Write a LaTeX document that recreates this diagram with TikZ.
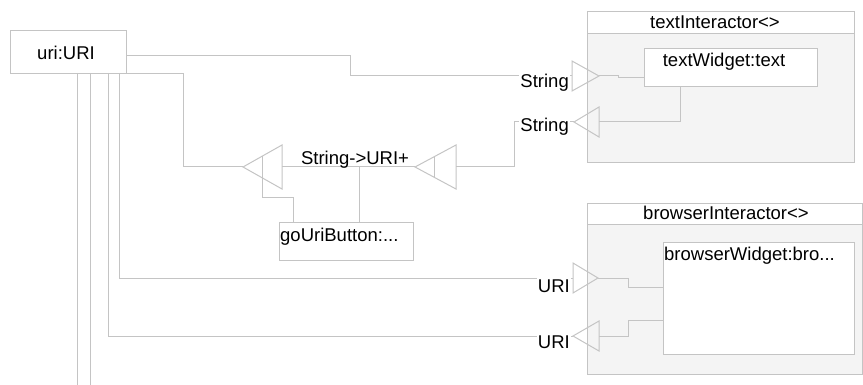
\documentclass[tikz,border=0pt]{standalone}
\usepackage{fontspec}
\setmainfont{Liberation Sans}
\definecolor{lineg}{HTML}{C4C4C4}
\definecolor{panel}{HTML}{F4F4F4}
\begin{document}
\begin{tikzpicture}[x=1pt,y=-1pt,
  wire/.style={draw=lineg, line width=1pt},
  porttri/.style={draw=lineg, line width=1pt, line join=miter},
  box/.style={draw=lineg, fill=white, line width=1pt, inner sep=0pt, anchor=north west},
  panelbox/.style={draw=lineg, fill=panel, line width=1pt, inner sep=0pt, anchor=north west},
  headbox/.style={draw=lineg, fill=white, line width=1pt, inner sep=0pt, anchor=north west},
  lbl/.style={font=\fontsize{18.5}{20}\selectfont, text=black, inner sep=0pt},
  plbl/.style={font=\fontsize{18.5}{20}\selectfont, text=black, inner sep=1pt, fill=white, anchor=base east}]
\useasboundingbox (0,0) rectangle (863,385);

% containers
\node[panelbox, minimum width=267pt, minimum height=151pt] (ti) at (587,11) {};
\node[headbox, minimum width=267pt, minimum height=22pt] (tih) at (ti.north west) {};
\node[lbl, anchor=base] (tit) at (715,29) {textInteractor<>};
\node[panelbox, minimum width=275pt, minimum height=171pt] (bi) at (587,203) {};
\node[headbox, minimum width=275pt, minimum height=21pt] (bih) at (bi.north west) {};
\node[lbl, anchor=base] (bit) at (726,220) {browserInteractor<>};

% boxes
\node[box, minimum width=116pt, minimum height=43pt] (uri) at (10,30) {};
\node[lbl, anchor=base] (urit) at (66,60) {uri:URI};
\node[box, minimum width=173pt, minimum height=38pt] (tw) at (644,48) {};
\node[lbl, anchor=base] (twt) at (724,67) {textWidget:text};
\node[box, minimum width=134pt, minimum height=38pt] (go) at (279,222) {};
\node[lbl, anchor=base west] (got) at (280,241) {goUriButton:...};
\node[box, minimum width=191pt, minimum height=112pt] (bw) at (663,242) {};
\node[lbl, anchor=base west] (bwt) at (664,261) {browserWidget:bro...};

% port coordinates
\coordinate (pAin) at (572,76);   \coordinate (pAtip) at (599,76);
\coordinate (pBtip) at (574,122); \coordinate (pBout) at (599,122);
\coordinate (pCin) at (573,278);  \coordinate (pCtip) at (598,278);
\coordinate (pDtip) at (573,336); \coordinate (pDout) at (599,336);
\coordinate (cLtip) at (243,167); \coordinate (cLout) at (282,167);
\coordinate (cRtip) at (415,167); \coordinate (cRout) at (456,167);

% wires from uri
\draw[wire] (77,73) -- (77,385);
\draw[wire] (90,73) -- (90,385);
\draw[wire] (108,73) |- (pDtip);
\draw[wire] (119,73) |- (pCin);
\draw[wire] ([yshift=-3.5pt]uri.east) -| (350,76) -- (pAin);
\draw[wire] (uri.south east) -| (183,167) -- (cLtip);

% conversion
\draw[wire] (cLout) -- (cRtip);
\draw[wire] (359,167) -- (go.north -| 359,222);
\draw[wire] (262,156.3) -- (262,198) -| (293,222);
\draw[wire] (cRout) -| (514,122) -- (pBtip);
\draw[wire] (434,156.8) -- (434,177.2);

% inside textInteractor
\draw[wire] (pAtip) -- (618,76) -- (618,78) -- (644,78);
\draw[wire] (pBout) -| (680,86);
% inside browserInteractor
\draw[wire] (pCtip) -- (628,278) |- (663,287);
\draw[wire] (pDout) -- (628,336) |- (663,320);

% triangles
\draw[porttri] (pAin) +(0,-15) -- +(27,0) -- +(0,15) -- cycle;
\draw[porttri] (pBtip) +(25,-15) -- +(0,0) -- +(25,15) -- cycle;
\draw[porttri] (pCin) +(0,-15) -- +(25,0) -- +(0,15) -- cycle;
\draw[porttri] (pDtip) +(26,-15) -- +(0,0) -- +(26,15) -- cycle;
\draw[porttri] (cLtip) +(39,-22) -- +(0,0) -- +(39,22) -- cycle;
\draw[porttri] (cRtip) +(41,-22) -- +(0,0) -- +(41,22) -- cycle;

% labels
\node[plbl] (la) at (570,88) {String};
\node[plbl] (lb) at (570,132) {String};
\node[plbl] (lc) at (571,292) {URI};
\node[plbl] (ld) at (571,348) {URI};
\node[lbl, anchor=base] (conv) at (355,165) {String->URI+};
\end{tikzpicture}
\end{document}
